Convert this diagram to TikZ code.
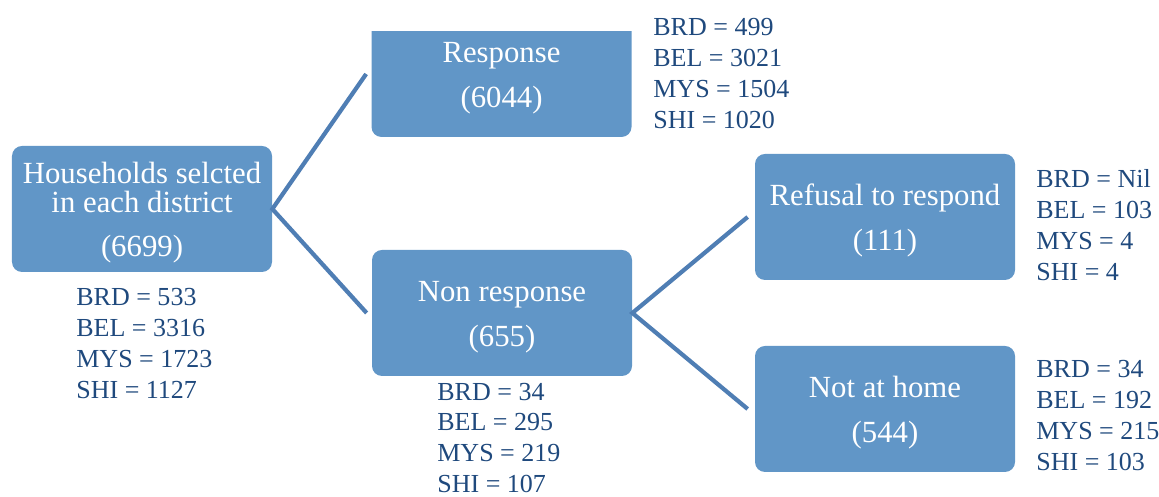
\documentclass[tikz,border=0pt]{standalone}
\usepackage{fontspec}
\setmainfont{Liberation Serif}
\usetikzlibrary{positioning}
\definecolor{boxblue}{RGB}{97,150,199}
\definecolor{linkblue}{RGB}{79,126,180}
\definecolor{statblue}{RGB}{31,73,125}
\newcommand{\topstrut}{\rule{0pt}{16.5pt}}
\begin{document}
\begin{tikzpicture}[
    box/.style={fill=boxblue, rounded corners=0.2cm, minimum width=5.2cm, minimum height=2.52cm,
                text=white, align=center, inner sep=0pt, font=\fontsize{17.5}{16.5}\selectfont},
    stats/.style={anchor=north west, inner sep=0pt, align=left, text=statblue,
                  font=\fontsize{14.8}{17.6}\selectfont},
    link/.style={linkblue, line width=2.4pt, line join=miter}
  ]
  \useasboundingbox (0,0) rectangle (23.18,9.94);
  %%%%%%%%%%%%%%%%%%%%%%%% Cajas %%%%%%%%%%%%%%%%%%%%%%%%%%%%%%%%%%%
  \node[box] (house) at (2.84,5.76) {\topstrut Households selcted\\in each district\\[8.5pt](6699)};
  \begin{scope}
    \clip (0,0) rectangle (23.18,9.30); %caja cortada arriba
    \node[box] (resp) at (10.03,8.46) {\topstrut Response\\[9pt](6044)};
  \end{scope}
  \node[box] (nonresp) at (10.04,3.68) {\topstrut Non response\\[9pt](655)};
  \node[box] (refusal) at (17.70,5.60) {\topstrut Refusal to respond\\[9pt](111)};
  \node[box] (nothome) at (17.70,1.76) {\topstrut Not at home\\[9pt](544)};
  %%%%%%%%%%%%%%%%%%%%%%%% Conectores %%%%%%%%%%%%%%%%%%%%%%%%%%%%%%
  \draw[link] ([xshift=-0.1cm]resp.west) -- (house.east) -- ([xshift=-0.1cm]nonresp.west);
  \draw[link] ([xshift=-0.14cm]refusal.west) -- (nonresp.east) -- ([xshift=-0.14cm]nothome.west);
  %%%%%%%%%%%%%%%%%%%%%%%% Datos por distrito %%%%%%%%%%%%%%%%%%%%%%
  \node[stats] (housestats) at (1.52,4.18) {BRD = 533\\BEL = 3316\\MYS = 1723\\SHI = 1127};
  \node[stats] (respstats) at (13.06,9.58) {BRD = 499\\BEL = 3021\\MYS = 1504\\SHI = 1020};
  \node[stats] (nonrespstats) at (8.74,2.29) {BRD = 34\\BEL = 295\\MYS = 219\\SHI = 107};
  \node[stats] (refusalstats) at (20.72,6.56) {BRD = Nil\\BEL = 103\\MYS = 4\\SHI = 4};
  \node[stats] (nothomestats) at (20.72,2.74) {BRD = 34\\BEL = 192\\MYS = 215\\SHI = 103};
\end{tikzpicture}
\end{document}
